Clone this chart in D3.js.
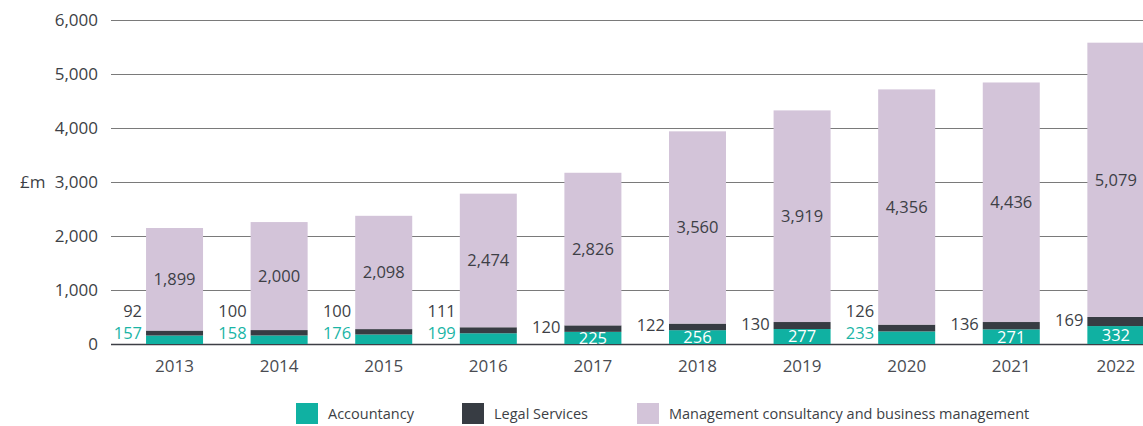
<!DOCTYPE html>
<meta charset="utf-8">
<style>
    body { margin: 0; background: #fff; }
    text { font-family: "Open Sans", "Noto Sans", sans-serif; fill: #3d3f46; }
    .grid line { stroke: #7a7a7a; stroke-width: 1; }
    .axis text { font-size: 17px; }
    .val { font-size: 16.5px; }
    .legend text { font-size: 14.5px; }
</style>
<svg width="1143" height="426"></svg>
<script src="https://d3js.org/d3.v7.min.js"></script>
<script>

    var years = ["2013", "2014", "2015", "2016", "2017", "2018", "2019", "2020", "2021", "2022"];
    var accountancy = [157, 158, 176, 199, 225, 256, 277, 233, 271, 332];
    var legal = [92, 100, 100, 111, 120, 122, 130, 126, 136, 169];
    var management = [1899, 2000, 2098, 2474, 2826, 3560, 3919, 4356, 4436, 5079];
    var yTicks = [0, 1000, 2000, 3000, 4000, 5000, 6000];
    var seriesNames = ["Accountancy", "Legal Services", "Management consultancy and business management"];
    // years where the accountancy figure sits outside the bar
    var accOutside = ["2013", "2014", "2015", "2016", "2020"];

    var colors = ["#10b1a2", "#373c43", "#d3c4d9"];

    var svg = d3.select("svg");

    var table = years.map(function(yr, i) {
        return { year: yr, acc: accountancy[i], legal: legal[i], mgmt: management[i] };
    });

    var x = d3.scaleBand()
        .domain(years)
        .range([111, 1179.4])
        .paddingInner(0.455)
        .paddingOuter(0.335);

    var y = d3.scaleLinear()
        .domain([0, 6000])
        .range([344, 20]);

    var fmt = d3.format(",");

    // gridlines
    var grid = svg.append("g").attr("class", "grid");
    grid.selectAll("line")
        .data(yTicks)
        .enter().append("line")
        .attr("x1", 111)
        .attr("x2", 1143)
        .attr("y1", function(d) { return Math.round(y(d)) + 0.5; })
        .attr("y2", function(d) { return Math.round(y(d)) + 0.5; })
        .style("stroke", function(d) { return d === 0 ? "#3d3f46" : null; })
        .style("stroke-width", function(d) { return d === 0 ? 1.5 : null; });

    var yAxis = svg.append("g")
        .attr("class", "axis")
        .attr("transform", "translate(98,0)")
        .call(d3.axisLeft(y).tickValues(yTicks).tickSize(0).tickPadding(0).tickFormat(fmt));
    yAxis.select(".domain").remove();
    yAxis.selectAll("text").attr("dy", "0.34em");

    svg.append("text")
        .attr("class", "val")
        .attr("x", 20)
        .attr("y", y(3000))
        .attr("dy", "0.34em")
        .style("font-size", "17px")
        .text("£m");

    // stacked bars
    var stack = d3.stack().keys(["acc", "legal", "mgmt"]);
    var layers = stack(table);

    svg.selectAll(".layer")
        .data(layers)
        .enter().append("g")
        .attr("class", "layer")
        .attr("fill", function(d, i) { return colors[i]; })
        .selectAll("rect")
        .data(function(d) { return d; })
        .enter().append("rect")
        .attr("x", function(d) { return x(d.data.year); })
        .attr("width", x.bandwidth())
        .attr("y", function(d) { return y(d[1]); })
        .attr("height", function(d) { return y(d[0]) - y(d[1]); });

    // management labels
    svg.selectAll(".mlab")
        .data(layers[2])
        .enter().append("text")
        .attr("class", "val")
        .attr("text-anchor", "middle")
        .attr("x", function(d) { return x(d.data.year) + x.bandwidth() / 2; })
        .attr("y", function(d) { return (y(d[0]) + y(d[1])) / 2; })
        .attr("dy", "0.36em")
        .text(function(d) { return fmt(d.data.mgmt); });

    // accountancy labels
    svg.selectAll(".alab")
        .data(layers[0])
        .enter().append("text")
        .attr("class", "val")
        .each(function(d) {
            var out = accOutside.indexOf(d.data.year) >= 0;
            d3.select(this)
                .attr("text-anchor", out ? "end" : "middle")
                .attr("x", out ? x(d.data.year) - 4 : x(d.data.year) + x.bandwidth() / 2)
                .attr("y", out ? 333 : (y(d[0]) + y(d[1])) / 2)
                .attr("dy", "0.36em")
                .style("fill", out ? "#1ab5a6" : "#fff");
        })
        .text(function(d) { return fmt(d.data.acc); });

    // legal labels
    svg.selectAll(".llab")
        .data(layers[1])
        .enter().append("text")
        .attr("class", "val")
        .attr("text-anchor", "end")
        .attr("x", function(d) { return x(d.data.year) - 4; })
        .attr("y", function(d) {
            var out = accOutside.indexOf(d.data.year) >= 0;
            return out ? 311 : (y(d[0]) + y(d[1])) / 2 - 1.5;
        })
        .attr("dy", "0.36em")
        .text(function(d) { return fmt(d.data.legal); });

    // year labels
    svg.selectAll(".ylab")
        .data(years)
        .enter().append("text")
        .attr("class", "val")
        .attr("text-anchor", "middle")
        .attr("x", function(d) { return x(d) + x.bandwidth() / 2; })
        .attr("y", 366)
        .attr("dy", "0.36em")
        .style("font-size", "17px")
        .style("fill", "#4a4c52")
        .text(function(d) { return d; });

    // legend
    var legendX = [296, 462, 637];
    var legend = svg.append("g").attr("class", "legend");
    var item = legend.selectAll("g")
        .data(seriesNames)
        .enter().append("g")
        .attr("transform", function(d, i) { return "translate(" + legendX[i] + ",403)"; });
    item.append("rect")
        .attr("width", 22)
        .attr("height", 21)
        .attr("fill", function(d, i) { return colors[i]; });
    item.append("text")
        .attr("x", 32)
        .attr("y", 11)
        .attr("dy", "0.36em")
        .text(function(d) { return d; });

</script>
